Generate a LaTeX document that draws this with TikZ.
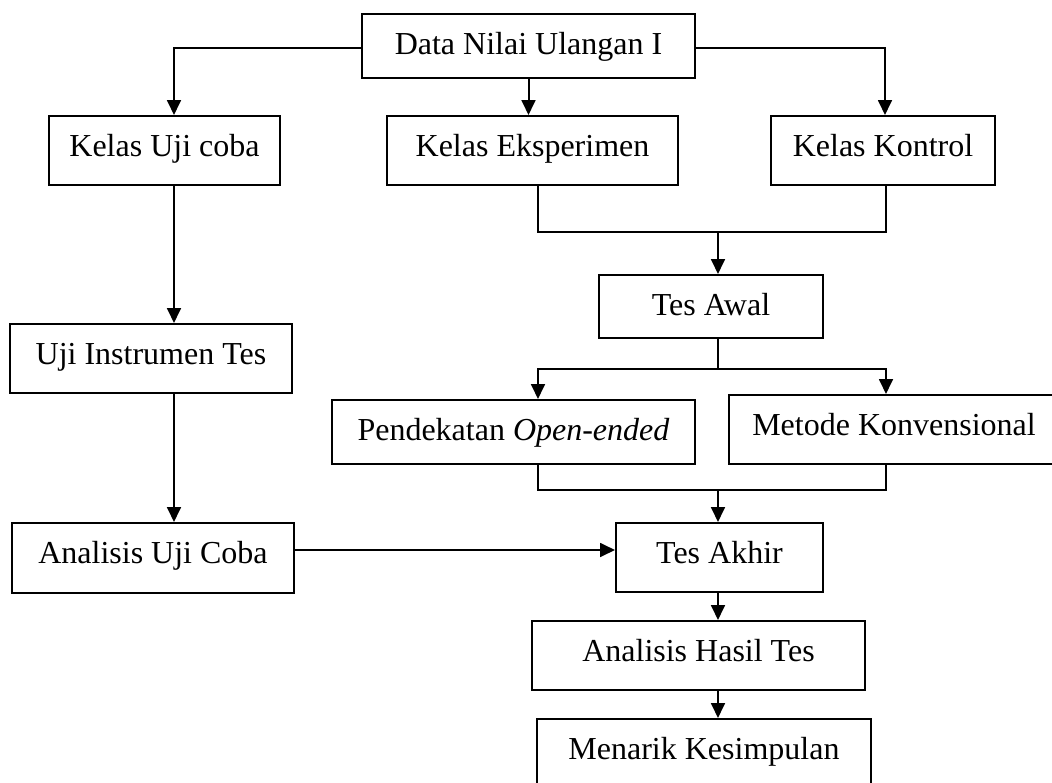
\documentclass[tikz,border=0pt]{standalone}
\usepackage{fontspec}
\setmainfont{Liberation Serif}
\usetikzlibrary{arrows.meta}

\tikzset{
  kotak/.style 2 args = {draw, anchor=north, inner sep=0pt,
    font=\fontsize{12pt}{14pt}\selectfont,
    minimum width=#1*0.375pt,
    text height=15pt, text depth=(#2-40)*0.375pt}
}

\begin{document}
\begin{tikzpicture}[x=0.375pt, y=-0.375pt, line width=0.75pt,
    >={Triangle[length=5.6pt, width=5.2pt]}]
   \useasboundingbox (0,0) rectangle (1052,783);

   % kotak-kotak
   \node[kotak={333}{64}] (data) at (528.5,13) {Data Nilai Ulangan I};
   \node[kotak={231}{69}] (ujicoba) at (164.5,115) {Kelas Uji coba};
   \node[kotak={291}{69}] (eksperimen) at (532.5,115) {Kelas Eksperimen};
   \node[kotak={224}{69}] (kontrol) at (883,115) {Kelas Kontrol};
   \node[kotak={224}{63}] (tesawal) at (711,274) {Tes Awal};
   \node[kotak={282}{69}] (instrumen) at (151,323) {Uji Instrumen Tes};
   \node[kotak={363}{64}] (pendekatan) at (513.5,399) {Pendekatan \textit{Open-ended}};
   \node[kotak={330}{69}] (metode) at (894,394) {Metode Konvensional};
   \node[kotak={282}{70}] (analisisuji) at (153,522) {Analisis Uji Coba};
   \node[kotak={207}{69}] (tesakhir) at (719.5,522) {Tes Akhir};
   \node[kotak={333}{69}] (hasil) at (698.5,620) {Analisis Hasil Tes};
   \node[kotak={334}{72}] (kesimpulan) at (704,718) {Menarik Kesimpulan};

   % titik belok
   \coordinate (kiri) at (174,48);
   \coordinate (kanan) at (885,48);
   \coordinate (kolA) at (538,0);
   \coordinate (kolB) at (886,0);
   \coordinate (m1) at (718,232);
   \coordinate (f1) at (718,369);
   \coordinate (m2) at (718,490);
   \coordinate (jalur) at (0,550);

   % panah
   \draw[->] (data.west |- kiri) -- (kiri) -- (kiri |- ujicoba.north);
   \draw[->] (data.east |- kanan) -- (kanan) -- (kanan |- kontrol.north);
   \draw[->] (data) -- (data |- eksperimen.north);
   \draw[->] (ujicoba.south -| kiri) -- (instrumen.north -| kiri);
   \draw[->] (instrumen.south -| kiri) -- (analisisuji.north -| kiri);
   \draw (eksperimen.south -| kolA) |- (kolB |- m1) -- (kontrol.south -| kolB);
   \draw[->] (m1) -- (m1 |- tesawal.north);
   \draw (tesawal.south -| f1) -- (f1);
   \draw[->] (f1) -| (pendekatan.north -| kolA);
   \draw[->] (f1) -| (metode.north -| kolB);
   \draw (pendekatan.south -| kolA) |- (kolB |- m2) -- (metode.south -| kolB);
   \draw[->] (m2) -- (m2 |- tesakhir.north);
   \draw[->] (analisisuji.east |- jalur) -- (tesakhir.west |- jalur);
   \draw[->] (tesakhir.south -| m2) -- (hasil.north -| m2);
   \draw[->] (hasil.south -| m2) -- (kesimpulan.north -| m2);
  \end{tikzpicture}
\end{document}
